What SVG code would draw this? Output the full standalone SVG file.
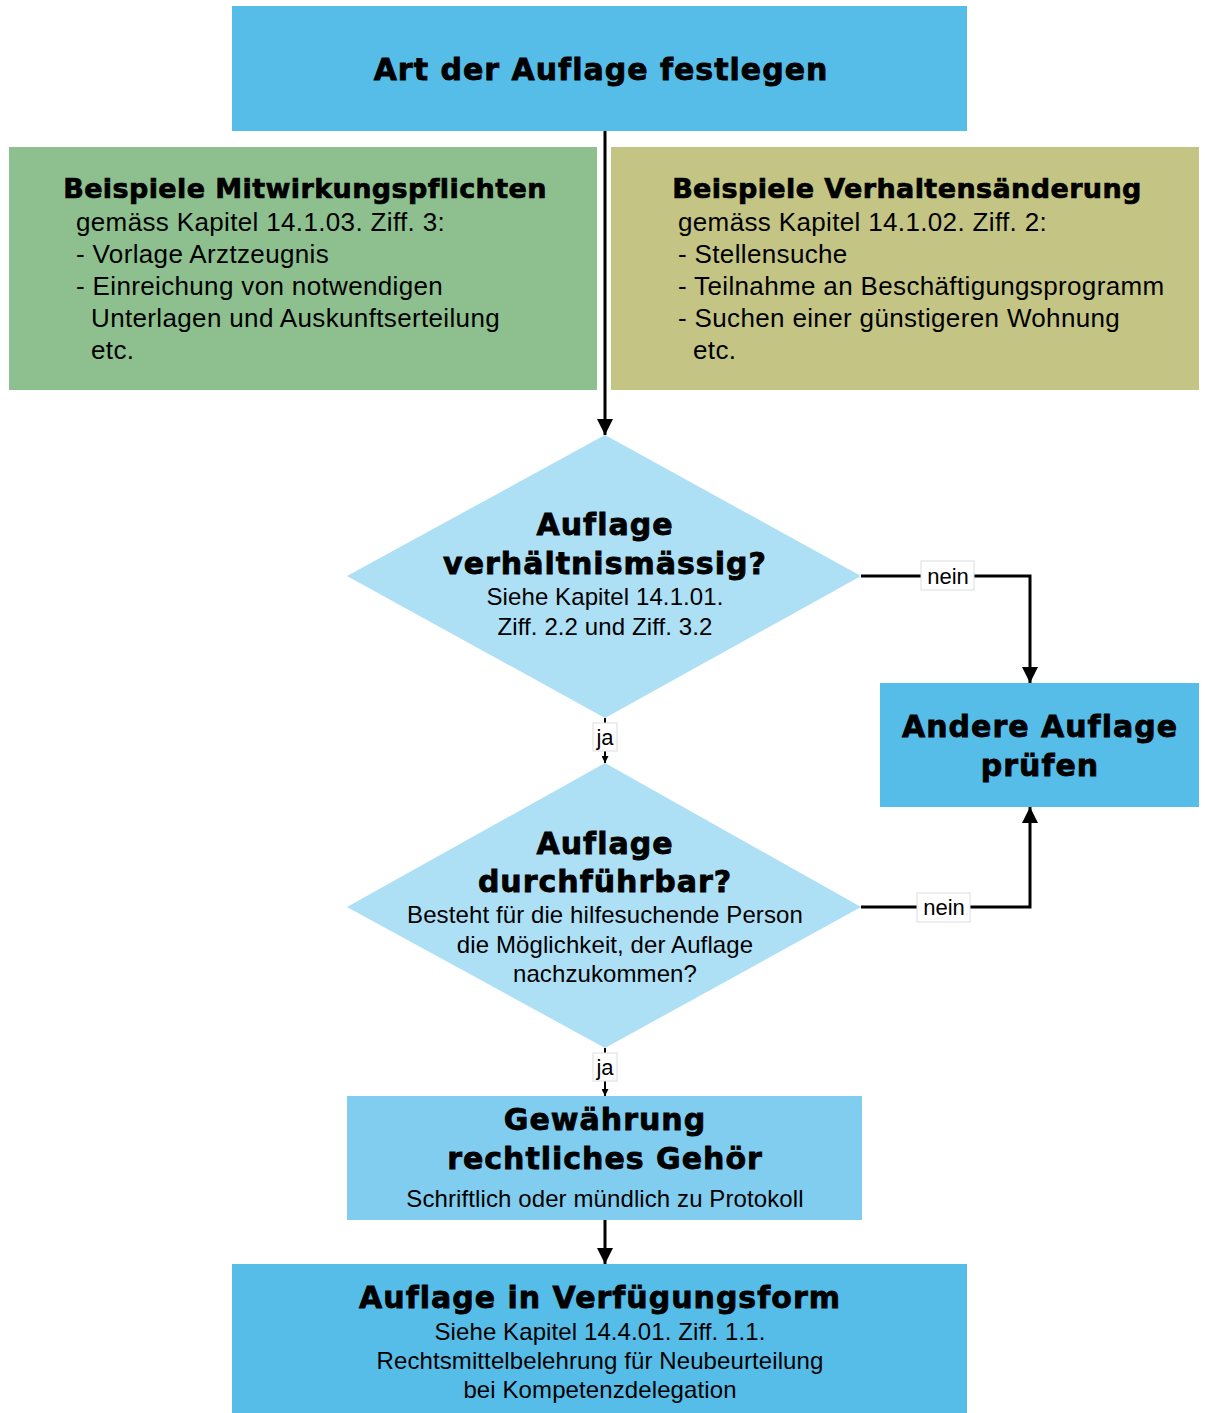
<svg xmlns="http://www.w3.org/2000/svg" width="1205" height="1413" viewBox="0 0 1205 1413">
<defs>
<style>
text{font-family:"Liberation Sans",Arial,sans-serif;fill:#000}
.t{font-family:"DejaVu Sans","Liberation Sans",sans-serif;font-weight:bold;font-size:30px;letter-spacing:1px;text-anchor:middle;stroke:#000;stroke-width:0.8}
.h{font-family:"DejaVu Sans","Liberation Sans",sans-serif;font-weight:bold;font-size:27px;letter-spacing:0.4px;text-anchor:middle;stroke:#000;stroke-width:0.7}
.b{font-size:26px;letter-spacing:0.35px}
.s{font-size:24px;letter-spacing:0.1px;text-anchor:middle}
.lbl{font-size:22px;text-anchor:middle}
.line{fill:none;stroke:#000;stroke-width:3}
</style>
<marker id="ah" viewBox="0 0 10 10" refX="10" refY="5" markerWidth="7" markerHeight="7" markerUnits="userSpaceOnUse" orient="auto">
<path d="M0,0 L10,5 L0,10 z" fill="#000"/>
</marker>
<marker id="ahb" viewBox="0 0 16 16" refX="16" refY="8" markerWidth="16" markerHeight="16" markerUnits="userSpaceOnUse" orient="auto">
<path d="M0,0 L16,8 L0,16 z" fill="#000"/>
</marker>
</defs>
<rect width="1205" height="1413" fill="#fff"/>

<g id="connectors">
<line class="line" x1="605" y1="131" x2="605" y2="435" marker-end="url(#ahb)"/>
<line x1="605" y1="718" x2="605" y2="763" stroke="#000" stroke-width="2" marker-end="url(#ah)"/>
<line x1="605" y1="1048" x2="605" y2="1096" stroke="#000" stroke-width="2" marker-end="url(#ah)"/>
<line class="line" x1="605" y1="1220" x2="605" y2="1264" marker-end="url(#ahb)"/>
<polyline class="line" points="861,576 1030,576 1030,683" marker-end="url(#ahb)"/>
<polyline class="line" points="861,907 1030,907 1030,807" marker-end="url(#ahb)"/>
<rect x="593" y="723" width="24" height="28" fill="#fff" stroke="#ddd" stroke-width="1"/>
<text class="lbl" x="605" y="745">ja</text>
<rect x="593" y="1053" width="24" height="28" fill="#fff" stroke="#ddd" stroke-width="1"/>
<text class="lbl" x="605" y="1075">ja</text>
<rect x="921" y="561" width="53" height="29" fill="#fff" stroke="#ddd" stroke-width="1"/>
<text class="lbl" x="948" y="584">nein</text>
<rect x="917" y="893" width="53" height="29" fill="#fff" stroke="#ddd" stroke-width="1"/>
<text class="lbl" x="944" y="915">nein</text>
</g>

<g id="start">
<rect x="232" y="6" width="735" height="125" fill="#56BDE9"/>
<text class="t" x="601" y="80">Art der Auflage festlegen</text>
</g>

<g id="mitwirkung">
<rect x="9" y="147" width="588" height="243" fill="#8DC08E"/>
<text class="h" x="305" y="198">Beispiele Mitwirkungspflichten</text>
<text class="b" x="76" y="231">gemäss Kapitel 14.1.03. Ziff. 3:</text>
<text class="b" x="76" y="263">- Vorlage Arztzeugnis</text>
<text class="b" x="76" y="295">- Einreichung von notwendigen</text>
<text class="b" x="91" y="327">Unterlagen und Auskunftserteilung</text>
<text class="b" x="91" y="359">etc.</text>
</g>

<g id="verhalten">
<rect x="611" y="147" width="588" height="243" fill="#C4C584"/>
<text class="h" x="907" y="198">Beispiele Verhaltensänderung</text>
<text class="b" x="678" y="231">gemäss Kapitel 14.1.02. Ziff. 2:</text>
<text class="b" x="678" y="263">- Stellensuche</text>
<text class="b" x="678" y="295">- Teilnahme an Beschäftigungsprogramm</text>
<text class="b" x="678" y="327">- Suchen einer günstigeren Wohnung</text>
<text class="b" x="693" y="359">etc.</text>
</g>

<g id="verhaeltnismaessig">
<polygon points="605,435 861,576 605,718 347,576" fill="#ADDFF5"/>
<text class="t" x="605" y="535">Auflage</text>
<text class="t" x="605" y="574">verhältnismässig?</text>
<text class="s" x="605" y="605">Siehe Kapitel 14.1.01.</text>
<text class="s" x="605" y="635">Ziff. 2.2 und Ziff. 3.2</text>
</g>

<g id="durchfuehrbar">
<polygon points="605,763 861,907 605,1048 347,907" fill="#ADDFF5"/>
<text class="t" x="605" y="854">Auflage</text>
<text class="t" x="605" y="892">durchführbar?</text>
<text class="s" x="605" y="923">Besteht für die hilfesuchende Person</text>
<text class="s" x="605" y="953">die Möglichkeit, der Auflage</text>
<text class="s" x="605" y="982">nachzukommen?</text>
</g>

<g id="andere">
<rect x="880" y="683" width="319" height="124" fill="#56BDE9"/>
<text class="t" x="1040" y="737">Andere Auflage</text>
<text class="t" x="1040" y="776">prüfen</text>
</g>

<g id="gehoer">
<rect x="347" y="1096" width="515" height="124" fill="#80CDEF"/>
<text class="t" x="605" y="1130">Gewährung</text>
<text class="t" x="605" y="1169">rechtliches Gehör</text>
<text class="s" x="605" y="1207">Schriftlich oder mündlich zu Protokoll</text>
</g>

<g id="verfuegung">
<rect x="232" y="1264" width="735" height="149" fill="#56BDE9"/>
<text class="t" x="600" y="1308">Auflage in Verfügungsform</text>
<text class="s" x="600" y="1340">Siehe Kapitel 14.4.01. Ziff. 1.1.</text>
<text class="s" x="600" y="1369">Rechtsmittelbelehrung für Neubeurteilung</text>
<text class="s" x="600" y="1398">bei Kompetenzdelegation</text>
</g>
</svg>
